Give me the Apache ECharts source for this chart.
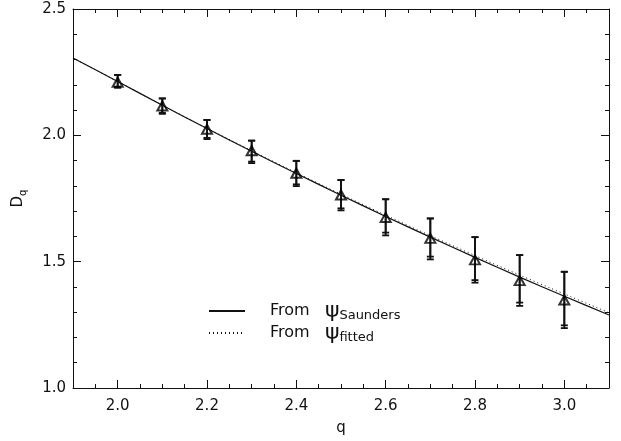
<!DOCTYPE html>
<html>
<head>
<meta charset="utf-8">
<script src="https://cdn.jsdelivr.net/npm/echarts@6/dist/echarts.min.js"></script>
<style>html,body{margin:0;padding:0;background:#fff;}#c{width:621px;height:441px;}</style>
</head>
<body>
<div id="c"></div>
<script>
// ---- data ----
var qPoints = [2.0, 2.1, 2.2, 2.3, 2.4, 2.5, 2.6, 2.7, 2.8, 2.9, 3.0];
var dqPoints = [2.210, 2.116, 2.024, 1.939, 1.850, 1.764, 1.675, 1.592, 1.507, 1.425, 1.348];
var errUpper = [2.239, 2.146, 2.061, 1.979, 1.899, 1.823, 1.747, 1.671, 1.597, 1.526, 1.460];
var errLowerSaunders = [2.192, 2.089, 1.990, 1.896, 1.806, 1.711, 1.615, 1.520, 1.427, 1.338, 1.248];
var errLowerFitted = [2.188, 2.085, 1.985, 1.890, 1.799, 1.703, 1.604, 1.509, 1.417, 1.325, 1.237];
var qLine = [1.9, 2.0, 2.1, 2.2, 2.3, 2.4, 2.5, 2.6, 2.7, 2.8, 2.9, 3.0, 3.1];
var dqSaunders = [2.306, 2.213, 2.119, 2.027, 1.937, 1.849, 1.763, 1.679, 1.597, 1.517, 1.439, 1.363, 1.289];
var dqFitted = [2.306, 2.213, 2.119, 2.028, 1.939, 1.852, 1.767, 1.684, 1.603, 1.524, 1.447, 1.372, 1.298];
var xMajorTicks = [2.0, 2.2, 2.4, 2.6, 2.8, 3.0];
var seriesNames = ['Saunders', 'fitted'];

var FONT = 'DejaVu Sans';
var INK = '#111';

function pairs(xs, ys) { return xs.map(function (x, i) { return [x, ys[i]]; }); }
function errData(lows) { return qPoints.map(function (x, i) { return [x, errUpper[i], lows[i]]; }); }

function errRender(params, api) {
  var x = api.value(0);
  var hi = api.coord([x, api.value(1)]);
  var lo = api.coord([x, api.value(2)]);
  var h = 3.5;
  var st = { stroke: INK, lineWidth: 1.8 };
  return {
    type: 'group',
    children: [
      { type: 'line', shape: { x1: hi[0], y1: hi[1], x2: lo[0], y2: lo[1] }, style: st },
      { type: 'line', shape: { x1: hi[0] - h, y1: hi[1], x2: hi[0] + h, y2: hi[1] }, style: st },
      { type: 'line', shape: { x1: lo[0] - h, y1: lo[1], x2: lo[0] + h, y2: lo[1] }, style: st }
    ]
  };
}

var axisLineStyle = { color: INK, width: 1 };
var gridRect = { left: 73, right: 12, top: 9, bottom: 53 };

var chart = echarts.init(document.getElementById('c'));
chart.setOption({
  animation: false,
  backgroundColor: '#fff',
  grid: [
    Object.assign({}, gridRect),
    Object.assign({}, gridRect)
  ],
  xAxis: [
    {
      gridIndex: 0, type: 'value', position: 'bottom', min: 1.9, max: 3.1, interval: 0.1,
      name: 'q', nameLocation: 'middle', nameGap: 33,
      nameTextStyle: { fontFamily: FONT, fontSize: 15, color: INK },
      axisLine: { show: true, onZero: false, lineStyle: axisLineStyle },
      axisTick: { show: true, inside: true, length: 8, customValues: xMajorTicks, lineStyle: axisLineStyle },
      axisLabel: { show: true, customValues: xMajorTicks, margin: 11, fontFamily: FONT, fontSize: 15, color: INK,
        formatter: function (v) { return v.toFixed(1); } },
      splitLine: { show: false }
    },
    {
      gridIndex: 0, type: 'value', position: 'top', min: 1.9, max: 3.1, interval: 0.1,
      axisLine: { show: true, onZero: false, lineStyle: axisLineStyle },
      axisTick: { show: true, inside: true, length: 8, customValues: xMajorTicks, lineStyle: axisLineStyle },
      axisLabel: { show: false },
      splitLine: { show: false }
    },
    {
      gridIndex: 1, type: 'value', position: 'bottom', min: 1.9, max: 3.1, interval: 0.05,
      axisLine: { show: false, onZero: false },
      axisTick: { show: true, inside: true, length: 4, lineStyle: axisLineStyle },
      axisLabel: { show: false }, splitLine: { show: false }
    },
    {
      gridIndex: 1, type: 'value', position: 'top', min: 1.9, max: 3.1, interval: 0.05,
      axisLine: { show: false, onZero: false },
      axisTick: { show: true, inside: true, length: 4, lineStyle: axisLineStyle },
      axisLabel: { show: false }, splitLine: { show: false }
    }
  ],
  yAxis: [
    {
      gridIndex: 0, type: 'value', position: 'left', min: 1.0, max: 2.5, interval: 0.5,
      name: '{d|D}{s|q}', nameLocation: 'middle', nameGap: 45, nameRotate: 90,
      nameTextStyle: { color: INK, rich: {
        d: { fontFamily: FONT, fontSize: 15, color: INK },
        s: { fontFamily: FONT, fontSize: 10, color: INK, padding: [9, 0, 0, 0] }
      } },
      axisLine: { show: true, onZero: false, lineStyle: axisLineStyle },
      axisTick: { show: true, inside: true, length: 8, lineStyle: axisLineStyle },
      minorTick: { show: true, splitNumber: 5, length: 4, lineStyle: axisLineStyle },
      axisLabel: { show: true, margin: 7, fontFamily: FONT, fontSize: 15, color: INK,
        formatter: function (v) { return v.toFixed(1); } },
      splitLine: { show: false }
    },
    {
      gridIndex: 0, type: 'value', position: 'right', min: 1.0, max: 2.5, interval: 0.5,
      axisLine: { show: true, onZero: false, lineStyle: axisLineStyle },
      axisTick: { show: true, inside: true, length: 8, lineStyle: axisLineStyle },
      minorTick: { show: true, splitNumber: 5, length: 4, lineStyle: axisLineStyle },
      axisLabel: { show: false },
      splitLine: { show: false }
    },
    {
      gridIndex: 1, type: 'value', min: 1.0, max: 2.5, show: false
    }
  ],
  legend: {
    orient: 'vertical', left: 203, top: 295,
    itemWidth: 36, itemHeight: 14, itemGap: 0,
    data: seriesNames,
    itemStyle: { opacity: 0 },
    formatter: function (name) { return '{t|From   }{p|ψ}{s|' + name + '}'; },
    textStyle: { color: INK, rich: {
      t: { fontFamily: FONT, fontSize: 16, color: INK, padding: [0, 0, 0, 20] },
      p: { fontFamily: FONT, fontSize: 22, color: INK },
      s: { fontFamily: FONT, fontSize: 13, color: INK, padding: [9, 0, 0, 0] }
    } }
  },
  series: [
    {
      name: seriesNames[0], type: 'line', xAxisIndex: 0, yAxisIndex: 0,
      data: pairs(qLine, dqSaunders), symbol: 'none', smooth: 0.3,
      lineStyle: { color: INK, width: 1.2, type: 'solid' }, itemStyle: { color: INK }, z: 3
    },
    {
      name: seriesNames[1], type: 'line', xAxisIndex: 0, yAxisIndex: 0,
      data: pairs(qLine, dqFitted), symbol: 'none', smooth: 0.3,
      lineStyle: { color: INK, width: 1, type: [1, 3] }, itemStyle: { color: INK }, z: 3
    },
    {
      type: 'custom', xAxisIndex: 0, yAxisIndex: 0, renderItem: errRender,
      data: errData(errLowerSaunders), z: 4, silent: true
    },
    {
      type: 'custom', xAxisIndex: 0, yAxisIndex: 0, renderItem: errRender,
      data: errData(errLowerFitted), z: 4, silent: true
    },
    {
      type: 'scatter', xAxisIndex: 0, yAxisIndex: 0,
      data: pairs(qPoints, dqPoints), symbol: 'triangle', symbolSize: [10, 9],
      itemStyle: { color: 'rgba(255,255,255,0)', borderColor: '#000', borderWidth: 2 }, z: 5
    }
  ]
});
</script>
</body>
</html>
